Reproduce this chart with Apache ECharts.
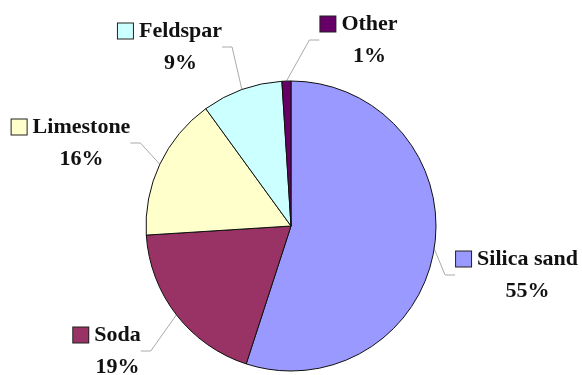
<!DOCTYPE html>
<html>
<head>
<meta charset="utf-8">
<script src="https://cdn.jsdelivr.net/npm/echarts@6/dist/echarts.min.js"></script>
<style>
html,body{margin:0;padding:0;background:#fff;}
#c{width:582px;height:375px;}
</style>
</head>
<body>
<div id="c"></div>
<script>
// ---- data ----
const categories = ['Silica sand', 'Soda', 'Limestone', 'Feldspar', 'Other'];
const values = [55, 19, 16, 9, 1];

// ---- styles ----
const colors = ['#9999FF', '#993366', '#FFFFCC', '#CCFFFF', '#660066'];
// label block centres (layout only)
const labelCenters = [[517, 275], [107, 351], [71, 143], [170, 47], [359, 40]];

const rich = {
  gap: { width: 6 },
  name: { fontFamily: 'Liberation Serif', fontWeight: 'bold', fontSize: 22, color: '#111', lineHeight: 32 },
  pad: { width: 21 },
  pct: { fontFamily: 'Liberation Serif', fontWeight: 'bold', fontSize: 22, color: '#111', lineHeight: 32 }
};
colors.forEach((c, i) => {
  rich['sq' + i] = { width: 15, height: 15, backgroundColor: c, borderColor: '#222', borderWidth: 1 };
});

const data = categories.map((n, i) => ({ name: n, value: values[i], itemStyle: { color: colors[i] } }));

const chart = echarts.init(document.getElementById('c'), null, { renderer: 'canvas' });
chart.setOption({
  backgroundColor: '#fff',
  animation: false,
  series: [{
    type: 'pie',
    center: [291, 226],
    radius: 145,
    startAngle: 90,
    clockwise: true,
    data: data,
    itemStyle: { borderColor: '#111', borderWidth: 1 },
    label: {
      show: true,
      position: 'outside',
      alignTo: 'none',
      overflow: 'none',
      bleedMargin: 0,
      align: 'center',
      formatter: p => '{sq' + p.dataIndex + '|}{gap|}{name|' + p.name + '}\n{pad|}{pct|' + p.value + '%}',
      rich: rich
    },
    labelLine: { show: true, length: 10, length2: 10, lineStyle: { color: '#aaa', width: 1 } },
    labelLayout: function (params) {
      const c = labelCenters[params.dataIndex];
      return { x: c[0], y: c[1], align: 'center', verticalAlign: 'middle' };
    },
    emphasis: { disabled: true }
  }]
});
</script>
</body>
</html>
